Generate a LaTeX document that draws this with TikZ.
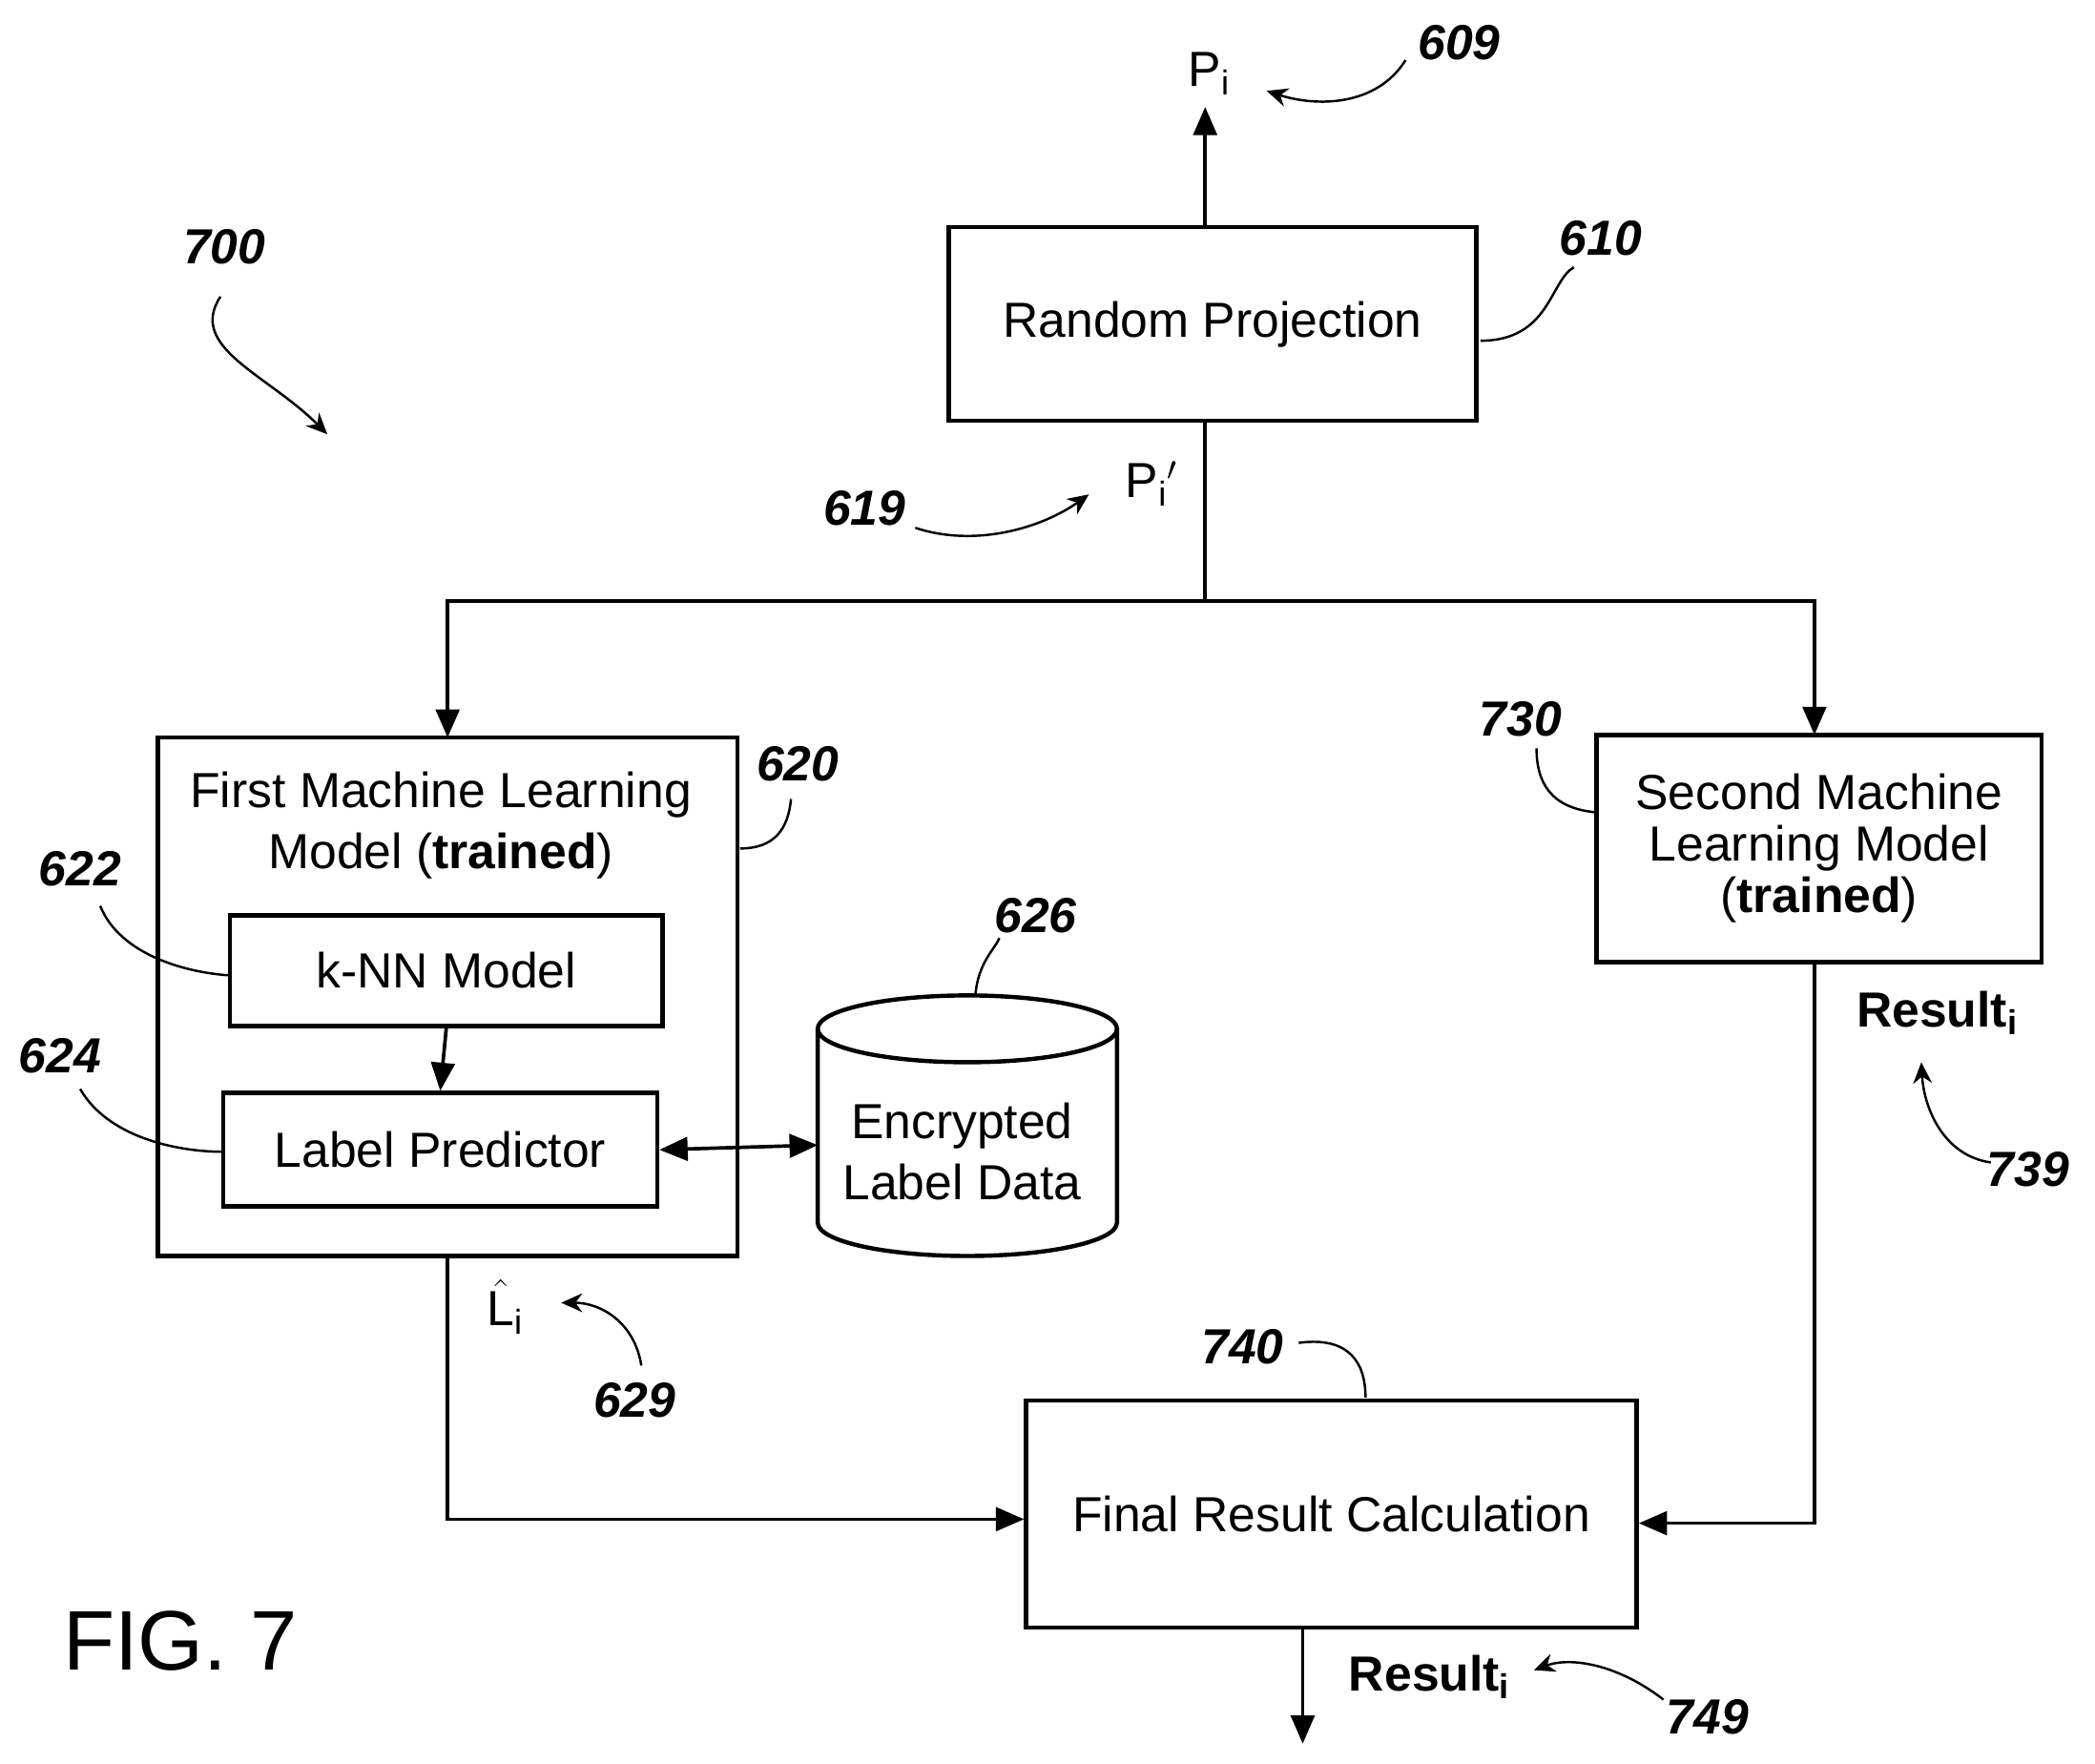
\documentclass[tikz,border=0pt]{standalone}
\usepackage{fontspec}
\setmainfont{Liberation Sans}
\usetikzlibrary{arrows.meta}
\begin{document}
\begin{tikzpicture}[x=0.02cm,y=-0.02cm,
 box/.style={draw,line width=1.8pt,align=center,font=\fontsize{21}{26}\selectfont,inner sep=0pt},
 ref/.style={font=\fontsize{21}{24}\selectfont\bfseries\itshape},
 wire/.style={line width=1.5pt},
 arr/.style={wire,-{Triangle[length=12pt,width=10pt]}},
 lead/.style={line width=1pt},
 leadarr/.style={line width=1pt,-{Stealth[length=9pt,width=8pt]}},
 lbl/.style={font=\fontsize{21}{26}\selectfont}]
\useasboundingbox (0,0) rectangle (1568,1320);
\node[box,minimum width=7.9cm,minimum height=2.9cm] (rp) at (907.5,242.5) {Random Projection};
\node[box,minimum width=8.68cm,minimum height=7.76cm] (fm) at (335,746) {};
\node[lbl,align=center] (fmt) at (330,618) {First Machine Learning\\Model (\textbf{trained})};
\node[box,minimum width=6.48cm,minimum height=1.66cm] (knn) at (334,726.5) {k-NN Model};
\node[box,minimum width=6.5cm,minimum height=1.7cm] (lp) at (329.5,860.5) {Label Predictor};
\node[box,minimum width=6.66cm,minimum height=3.4cm,font=\fontsize{21}{22}\selectfont] (sm) at (1361.5,635) {Second Machine\\Learning Model\\(\textbf{trained})};
\node[box,minimum width=9.14cm,minimum height=3.4cm] (fr) at (996.5,1133) {Final Result Calculation};
% cylinder
\draw[line width=1.8pt] (612,770) -- (612,915) arc[start angle=180,end angle=0,x radius=112,y radius=25] -- (836,770);
\draw[line width=1.8pt] (724,770) ellipse [x radius=112,y radius=25];
\node[lbl,align=center] (cyl) at (720,862) {Encrypted\\Label Data};
\coordinate (cylL) at (612,857);
\coordinate (cylT) at (730,745);
% Pi output
\node[lbl] (pi) at (905,55) {P\textsubscript{i}};
\draw[arr] (rp.north -| 902,0) -- (902,80);
% split
\node[lbl] (pip) at (862,362) {P\textsubscript{i}$'$};
\coordinate (sp) at (902,450);
\draw[wire] (902,315) -- (sp);
\draw[arr] (sp) -| (335,552);
\draw[arr] (sp) -| (1358,550);
\draw[arr] (knn.south) -- (lp.north);
\draw[wire,{Triangle[length=12pt,width=10pt]}-{Triangle[length=12pt,width=10pt]}] (lp.east) -- (cylL);
% L hat
\node[lbl] (lh) at (378,978) {$\hat{\mathrm{L}}$\textsubscript{i}};
\draw[arr] (335,940) -- (335,1137) -- (fr.west |- 0,1137);
\draw[arr] (1358,720) -- (1358,1140) -- (fr.east |- 0,1140);
\node[lbl,font=\fontsize{21}{26}\selectfont\bfseries] (r1) at (1450,758) {Result\textsubscript{i}};
\coordinate (out) at (975,1305);
\draw[arr] (975,1218) -- (out);
\node[lbl,font=\fontsize{21}{26}\selectfont\bfseries] (r2) at (1070,1255) {Result\textsubscript{i}};
\node[font=\fontsize{36}{40}\selectfont] (fig) at (135,1228) {FIG. 7};
% refs
\node[ref] (n700) at (168,185) {700};
\draw[leadarr] (165,222) .. controls (140,260) and (200,280) .. (245,325);
\node[ref] (n609) at (1092,32) {609};
\draw[leadarr] (1052,45) .. controls (1030,80) and (985,80) .. (948,68);
\node[ref] (n610) at (1198,178) {610};
\draw[lead] (1108,255) .. controls (1160,255) and (1160,210) .. (1178,200);
\node[ref] (n619) at (647,380) {619};
\draw[leadarr] (685,395) .. controls (730,410) and (780,395) .. (815,370);
\node[ref] (n620) at (597,572) {620};
\draw[lead] (554,635) .. controls (580,635) and (590,620) .. (592,598);
\node[ref] (n622) at (60,650) {622};
\draw[lead] (75,678) .. controls (90,715) and (140,728) .. (172,730);
\node[ref] (n624) at (45,790) {624};
\draw[lead] (60,815) .. controls (80,850) and (130,862) .. (167,862);
\node[ref] (n626) at (775,685) {626};
\draw[lead] (cylT) .. controls (732,720) and (745,710) .. (748,702);
\node[ref] (n730) at (1138,538) {730};
\draw[lead] (1195,608) .. controls (1160,605) and (1150,585) .. (1150,560);
\node[ref] (n739) at (1518,875) {739};
\draw[leadarr] (1490,870) .. controls (1455,865) and (1440,830) .. (1438,795);
\node[ref] (n629) at (475,1048) {629};
\draw[leadarr] (480,1022) .. controls (475,990) and (450,975) .. (420,975);
\node[ref] (n740) at (930,1008) {740};
\draw[lead] (972,1005) .. controls (1010,1000) and (1022,1020) .. (1022,1046);
\node[ref] (n749) at (1278,1285) {749};
\draw[leadarr] (1245,1272) .. controls (1210,1245) and (1175,1240) .. (1148,1250);
\end{tikzpicture}
\end{document}
